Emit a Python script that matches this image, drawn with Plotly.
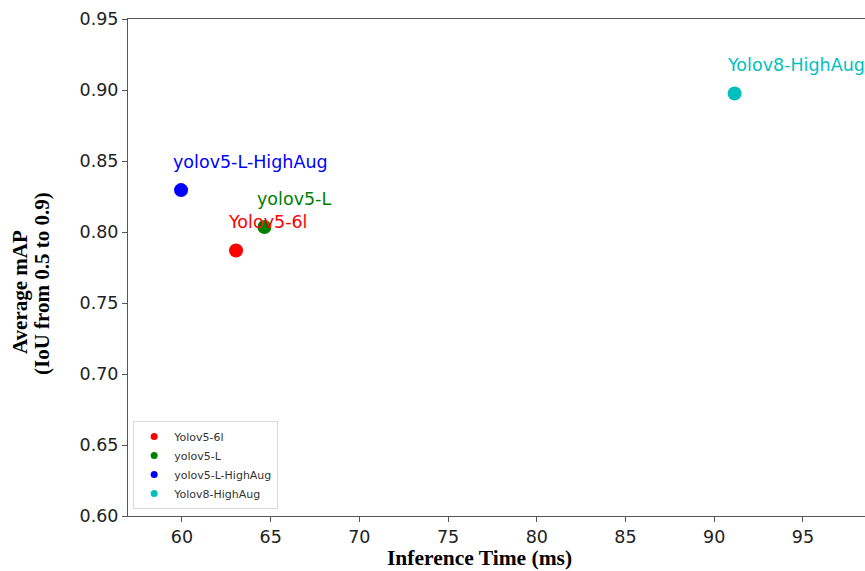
import plotly.graph_objects as go

models = ["Yolov5-6l", "yolov5-L", "yolov5-L-HighAug", "Yolov8-HighAug"]
inference_ms = [63.05, 64.65, 59.95, 91.15]
avg_map = [0.787, 0.8035, 0.8295, 0.8975]
colors = ["#ff0000", "#008000", "#0000ff", "#00bfbf"]

x_ticks = [60, 65, 70, 75, 80, 85, 90, 95]
y_ticks = [0.60, 0.65, 0.70, 0.75, 0.80, 0.85, 0.90, 0.95]

fig = go.Figure()
for name, x, y, c in zip(models, inference_ms, avg_map, colors):
    fig.add_trace(go.Scatter(x=[x], y=[y], mode="markers", name=name,
                             marker=dict(color=c, size=14), showlegend=False,
                             hoverinfo="skip", cliponaxis=False))
    fig.add_annotation(x=x - 0.55, y=y + 0.0115, xref="x", yref="y", text=name,
                       showarrow=False, xanchor="left", yanchor="bottom",
                       font=dict(family="DejaVu Sans", size=17.5, color=c))
# legend entries with small symbols
for name, c in zip(models, colors):
    fig.add_trace(go.Scatter(x=[None], y=[None], mode="markers", name=name,
                             marker=dict(color=c, size=7)))

# axis titles
title_font = dict(family="Liberation Serif", size=21, color="black")
fig.add_annotation(x=-0.1465, y=0.4507, xref="paper", yref="paper",
                   text="<b>Average mAP</b>", showarrow=False, textangle=-90,
                   xanchor="center", yanchor="middle", font=title_font)
fig.add_annotation(x=-0.1167, y=0.4688, xref="paper", yref="paper",
                   text="<b>(IoU from 0.5 to 0.9)</b>", showarrow=False, textangle=-90,
                   xanchor="center", yanchor="middle", font=title_font)
fig.add_annotation(x=0.4776, y=-0.0855, xref="paper", yref="paper",
                   text="<b>Inference Time (ms)</b>", showarrow=False,
                   xanchor="center", yanchor="middle", borderpad=0,
                   font=dict(family="Liberation Serif", size=21.5, color="black"))

fig.update_layout(
    width=865, height=571,
    margin=dict(l=128, r=0, t=19, b=55, autoexpand=False),
    paper_bgcolor="white", plot_bgcolor="white",
    font=dict(family="DejaVu Sans", color="#222"),
    showlegend=True,
    legend=dict(x=0.007, y=0.014, xanchor="left", yanchor="bottom",
                bgcolor="white", bordercolor="#d9d9d9", borderwidth=1,
                font=dict(size=11, color="#333"), tracegroupgap=0,
                itemwidth=30),
    xaxis=dict(range=[56.96, 98.5], tickvals=x_ticks, ticks="outside", ticklen=5,
               tickcolor="#555", showline=True, linecolor="#555", linewidth=1,
               mirror=True, showgrid=False, zeroline=False, automargin=False,
               tickfont=dict(size=17.5, color="#222")),
    yaxis=dict(range=[0.60, 0.95], tickvals=y_ticks, tickformat=".2f", ticks="outside",
               ticklen=5, tickcolor="#555", showline=True, linecolor="#555",
               linewidth=1, mirror=False, showgrid=False, zeroline=False,
               automargin=False, tickfont=dict(size=17.5, color="#222")),
)

fig.write_html("out.html", config={"displayModeBar": False},
               post_script="document.body.style.margin='0';")
